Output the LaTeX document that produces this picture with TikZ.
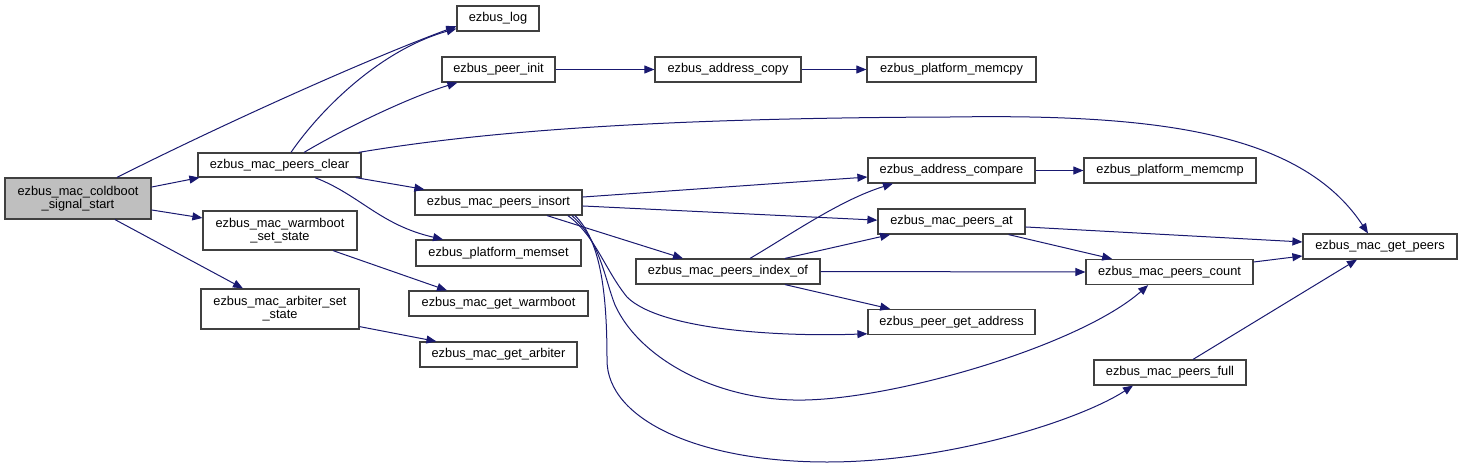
\documentclass[tikz,border=0pt]{standalone}
\usepackage{fontspec}
\setmainfont{Liberation Sans}
\usetikzlibrary{arrows.meta}
\definecolor{edgeblue}{HTML}{191970}
\definecolor{boxgray}{HTML}{404040}
\definecolor{rootfill}{HTML}{BFBFBF}

\begin{document}
\begin{tikzpicture}[
  x=0.75pt, y=-0.75pt,
  fnbox/.style={draw=boxgray, line width=0.9pt, fill=white, inner sep=0pt,
                minimum height=18.75pt, align=center,
                font=\fontsize{9.6pt}{9.8pt}\selectfont},
  rootbox/.style={fnbox, fill=rootfill},
  arr/.style={-{Triangle[length=7.5pt,width=6pt]}, draw=edgeblue, line width=0.75pt}
]
  \useasboundingbox (0,0) rectangle (1463,468);

  % caller
  \node[rootbox, minimum width=109.5pt, minimum height=30.75pt] (cold) at (78,198.5)
    {ezbus\_mac\_coldboot\\\_signal\_start};

  % second column
  \node[fnbox, minimum width=122.25pt, minimum height=18pt] (clear) at (279.5,165) {ezbus\_mac\_peers\_clear};
  \node[fnbox, minimum width=115.5pt, minimum height=29.25pt] (wset) at (280,230.5)
    {ezbus\_mac\_warmboot\\\_set\_state};
  \node[fnbox, minimum width=118.5pt, minimum height=30pt] (aset) at (280,309)
    {ezbus\_mac\_arbiter\_set\\\_state};

  % third column
  \node[fnbox, minimum width=61.5pt] (log) at (498,18.5) {ezbus\_log};
  \node[fnbox, minimum width=84.75pt] (pinit) at (498.5,69.5) {ezbus\_peer\_init};
  \node[fnbox, minimum width=125.25pt] (insort) at (498.5,202.5) {ezbus\_mac\_peers\_insort};
  \node[fnbox, minimum width=123.75pt, minimum height=19.5pt] (memset) at (498.5,253) {ezbus\_platform\_memset};
  \node[fnbox, minimum width=134.25pt] (getwarm) at (498.5,303.5) {ezbus\_mac\_get\_warmboot};
  \node[fnbox, minimum width=117.75pt] (getarb) at (498.5,354.5) {ezbus\_mac\_get\_arbiter};

  % fourth column
  \node[fnbox, minimum width=109.5pt] (acopy) at (728,69.5) {ezbus\_address\_copy};
  \node[fnbox, minimum width=138pt] (indexof) at (728,271.5) {ezbus\_mac\_peers\_index\_of};

  % fifth column
  \node[fnbox, minimum width=126.75pt] (memcpy) at (951.5,69.5) {ezbus\_platform\_memcpy};
  \node[fnbox, minimum width=125.25pt] (acmp) at (951.5,170.5) {ezbus\_address\_compare};
  \node[fnbox, minimum width=110.25pt] (at) at (951.5,221.5) {ezbus\_mac\_peers\_at};
  \node[fnbox, minimum width=125.25pt] (getaddr) at (951.5,322) {ezbus\_peer\_get\_address};

  % sixth and seventh column
  \node[fnbox, minimum width=129pt] (memcmp) at (1170,170.5) {ezbus\_platform\_memcmp};
  \node[fnbox, minimum width=125.25pt] (count) at (1169.5,272) {ezbus\_mac\_peers\_count};
  \node[fnbox, minimum width=114pt] (full) at (1170,372.5) {ezbus\_mac\_peers\_full};
  \node[fnbox, minimum width=115.5pt] (getpeers) at (1380,246.5) {ezbus\_mac\_get\_peers};

  % calls of the caller
  \draw[arr] ([xshift=29.25pt]cold.north) .. controls (215,128) and (360,62) .. ([yshift=4pt]log.south west);
  \draw[arr] ([yshift=8.6pt]cold.east) -- ([xshift=1.5pt]clear.south west);
  \draw[arr] ([yshift=-8.6pt]cold.east) -- ([yshift=9.4pt]wset.west);
  \draw[arr] ([xshift=27.75pt]cold.south) -- ([xshift=-27.75pt]aset.north);

  % calls of peers_clear
  \draw[arr] ([xshift=8.6pt]clear.north) .. controls (320,110) and (380,50) .. ([yshift=2.25pt]log.south west);
  \draw[arr] ([xshift=18.4pt]clear.north) .. controls (345,128) and (410,97) .. ([xshift=12pt]pinit.south west);
  \draw[arr] ([xshift=-2.25pt]clear.north east) .. controls (480,132) and (650,118) .. (950,117)
    .. controls (1150,114) and (1300,130) .. ([xshift=-9pt]getpeers.north);
  \draw[arr] ([xshift=-4.5pt]clear.south east) -- ([xshift=7.5pt]insort.north west);
  \draw[arr] ([xshift=26.6pt]clear.south) .. controls (360,195) and (380,225) .. ([xshift=-41.6pt]memset.north);

  \draw[arr] (pinit) -- (acopy);
  \draw[arr] (acopy) -- (memcpy);

  % calls of peers_insort
  \draw[arr] ([yshift=4.1pt]insort.east) -- ([yshift=-4.9pt]acmp.west);
  \draw[arr] ([yshift=-2.6pt]insort.east) -- ([yshift=1pt]at.west);
  \draw[arr] ([xshift=36.4pt]insort.south) -- ([xshift=-33.75pt]indexof.north);
  \draw[arr] ([xshift=52pt]insort.south) .. controls (595,235) and (605,270) .. (627,297)
    .. controls (660,330) and (780,337) .. ([yshift=1pt]getaddr.south west);
  \draw[arr] ([xshift=55pt]insort.south) .. controls (600,240) and (605,280) .. (615,305)
    .. controls (640,360) and (720,402) .. (805,400)
    .. controls (900,398) and (1080,345) .. ([xshift=-16pt]count.south);
  \draw[arr] ([xshift=57.4pt]insort.south) .. controls (600,240) and (607,290) .. (607,360)
    .. controls (607,420) and (700,462) .. (827,462)
    .. controls (950,462) and (1080,420) .. ([xshift=-27.75pt]full.south);

  \draw[arr] (acmp) -- (memcmp);

  % calls of peers_index_of
  \draw[arr] ([xshift=16.5pt]indexof.north) .. controls (790,235) and (840,200) .. ([xshift=-43.9pt]acmp.south);
  \draw[arr] ([xshift=42.75pt]indexof.north) -- ([xshift=-46pt]at.south);
  \draw[arr] (indexof.east) -- (count.west);
  \draw[arr] ([xshift=42.75pt]indexof.south) -- ([xshift=-46pt]getaddr.north);

  % towards get_peers
  \draw[arr] ([yshift=-4.1pt]at.east) -- ([yshift=3.4pt]getpeers.west);
  \draw[arr] ([xshift=-12.75pt]at.south east) -- ([xshift=-43pt]count.north);
  \draw[arr] ([yshift=7.5pt]count.east) -- ([yshift=-7.1pt]getpeers.west);
  \draw[arr] ([xshift=17.25pt]full.north) -- ([xshift=-17.25pt]getpeers.south);

  % getters of the state setters
  \draw[arr] ([xshift=39.75pt]wset.south) -- ([xshift=-38.6pt]getwarm.north);
  \draw[arr] ([yshift=2.25pt]aset.south east) -- ([xshift=12.75pt]getarb.north west);
\end{tikzpicture}
\end{document}
